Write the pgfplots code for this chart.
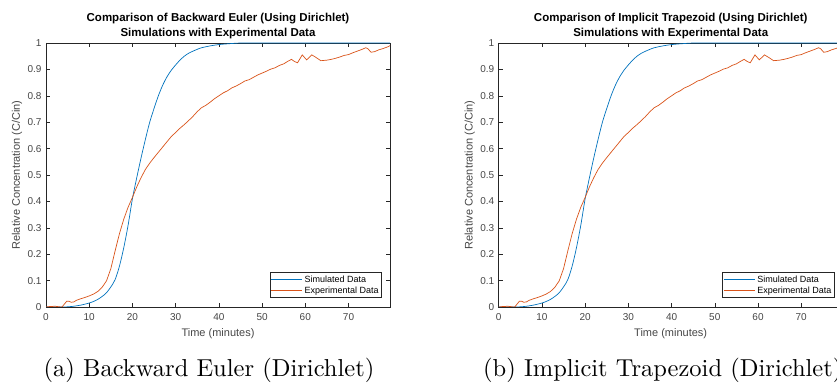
\documentclass[border={0pt 0pt -23pt 0pt}]{standalone}
\usepackage{fontspec}
\usepackage{pgfplots}
\usepackage{pgfplotstable}
\pgfplotsset{compat=1.18}
\newfontfamily\arial{Liberation Sans}
\newfontfamily\capfont{lmroman10-regular.otf}
\definecolor{mblue}{RGB}{0,114,189}
\definecolor{morange}{RGB}{217,83,25}
\definecolor{axgray}{RGB}{38,38,38}
\definecolor{txtgray}{RGB}{70,70,70}

\pgfplotstableread{
x y
0 0
4 0
6 0.002
8 0.007
10 0.015
11 0.021
12 0.029
13 0.040
14 0.054
15 0.076
16 0.104
17 0.155
18 0.225
19 0.310
20 0.410
21 0.490
22 0.565
23 0.635
24 0.700
25 0.752
26 0.800
27 0.840
28 0.872
29 0.897
30 0.917
31 0.935
32 0.950
33 0.961
34 0.969
35 0.976
36 0.982
38 0.989
40 0.994
43 0.998
46 1.000
60 1.000
79.6 1.000
}\simdata

\pgfplotstableread{
x y
0 0.000
0.5 0.001
1 0.002
1.5 0.002
2 0.003
2.5 0.002
3 0.001
3.4 0.000
3.7 0.000
4.3 0.012
4.8 0.022
5.3 0.022
5.8 0.018
6.4 0.019
7 0.025
8 0.031
9 0.036
10 0.042
11 0.049
12 0.059
13 0.075
14 0.099
15 0.145
16 0.213
17 0.278
18 0.333
19 0.378
20 0.415
21 0.455
22 0.490
23 0.521
24 0.545
25 0.566
26 0.586
27 0.606
28 0.626
29 0.646
30 0.661
31 0.677
32 0.691
33 0.706
34 0.722
35 0.740
36 0.755
37 0.764
38 0.776
39 0.789
40 0.800
41 0.811
42 0.819
43 0.830
44 0.837
45 0.846
46 0.856
47 0.861
48 0.870
49 0.879
50 0.886
51 0.893
52 0.901
53 0.906
54 0.915
55 0.921
56 0.931
56.8 0.938
57.5 0.930
58.2 0.925
59.3 0.955
60.3 0.936
61.5 0.955
62.5 0.945
63.6 0.933
65 0.935
66 0.938
67 0.942
68 0.947
69 0.953
70 0.956
71 0.963
72 0.969
73 0.975
74 0.982
74.5 0.978
75.2 0.965
76 0.967
77 0.974
78 0.979
79 0.985
79.6 0.990
}\expdata

\pgfplotsset{mystyle/.style={
  scale only axis, width=344pt, height=264pt,
  xmin=0, xmax=79.6, ymin=0, ymax=1,
  xtick={0,10,20,30,40,50,60,70},
  ytick={0,0.1,0.2,0.3,0.4,0.5,0.6,0.7,0.8,0.9,1},
  /pgf/number format/assume math mode=true,
  tick label style={font=\arial\fontsize{10}{12}\selectfont, text=txtgray},
  xticklabel style={yshift=-3pt},
  yticklabel style={xshift=-1pt},
  axis line style={axgray, line width=0.6pt},
  major tick style={axgray, line width=0.5pt},
  major tick length=4pt,
  tick align=inside,
  xlabel={Time (minutes)},
  ylabel={Relative Concentration (C/Cin)},
  label style={font=\arial\fontsize{11}{13}\selectfont, text=txtgray},
  xlabel style={at={(axis description cs:0.5,-0.1023)}, anchor=center},
  ylabel style={at={(axis description cs:-0.0843,0.5)}, anchor=center},
  title style={font=\arial\bfseries\fontsize{11.5}{15}\selectfont, align=center, at={(axis description cs:0.5,1)}, anchor=south, yshift=-5pt},
  legend style={at={(1,0)}, anchor=south east, xshift=-8pt, yshift=9pt,
    font=\arial\fontsize{9}{10}\selectfont, draw=axgray, line width=0.6pt,
    cells={anchor=west}, inner sep=1pt, row sep=-1pt},
  legend image code/.code={\draw[#1] (0pt,0pt) -- (31pt,0pt);},
  every axis plot/.append style={line width=0.7pt},
}}

\begin{document}
\begin{tikzpicture}
\path (0pt,0pt) rectangle (860pt,383pt);
\begin{axis}[mystyle, at={(46pt,76pt)}, anchor=south west,
  title={Comparison of Backward Euler (Using Dirichlet)\\Simulations with Experimental Data}]
\addplot[mblue, smooth] table[x=x,y=y] {\simdata};
\addplot[morange] table[x=x,y=y] {\expdata};
\legend{Simulated Data, Experimental Data}
\end{axis}
\begin{axis}[mystyle, at={(498.7pt,76pt)}, anchor=south west,
  title={Comparison of Implicit Trapezoid (Using Dirichlet)\\Simulations with Experimental Data}]
\addplot[mblue, smooth] table[x=x,y=y] {\simdata};
\addplot[morange] table[x=x,y=y] {\expdata};
\legend{Simulated Data, Experimental Data}
\end{axis}
\node[font=\capfont\fontsize{24.5}{28}\selectfont, anchor=base, inner sep=0pt] at (209pt,6pt) {(a) Backward Euler (Dirichlet)};
\node[font=\capfont\fontsize{24.5}{28}\selectfont, anchor=base west, inner sep=0pt] at (483pt,6pt) {(b) Implicit Trapezoid (Dirichlet)};
\end{tikzpicture}
\end{document}
